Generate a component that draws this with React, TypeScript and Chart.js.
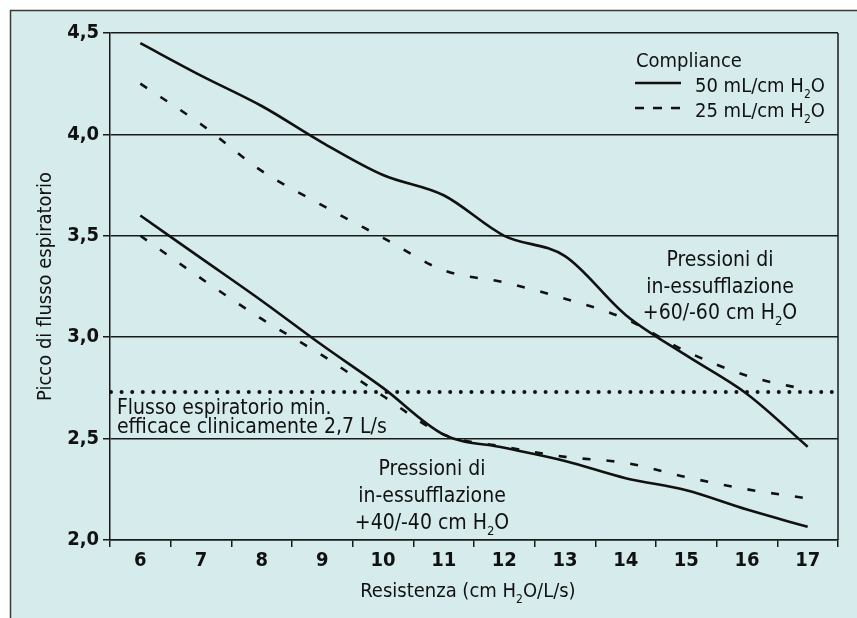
import React, { useEffect, useRef } from "react";
import { Chart, registerables } from "chart.js";

Chart.register(...registerables);

// ---- data ----
const categories = ["6", "7", "8", "9", "10", "11", "12", "13", "14", "15", "16", "17"];
const c50p60 = [4.45, 4.29, 4.14, 3.96, 3.8, 3.7, 3.5, 3.4, 3.11, 2.91, 2.72, 2.46];
const c25p60 = [4.25, 4.05, 3.82, 3.65, 3.49, 3.33, 3.27, 3.19, 3.09, 2.93, 2.81, 2.74];
const c50p40 = [3.6, 3.39, 3.18, 2.96, 2.75, 2.52, 2.455, 2.39, 2.305, 2.245, 2.15, 2.065];
const c25p40 = [3.5, 3.29, 3.09, 2.91, 2.71, 2.52, 2.46, 2.41, 2.38, 2.31, 2.25, 2.205];
const yMin = 2.0;
const yMax = 4.5;
const yStep = 0.5;
const thresholdValue = 2.73;

const yTitle = "Picco di flusso espiratorio";
const xTitle = "Resistenza (cm H_2O/L/s)";
const legendTitle = "Compliance";
const legendSolid = "50 mL/cm H_2O";
const legendDashed = "25 mL/cm H_2O";
const upperNote = ["Pressioni di", "in-essufflazione", "+60/-60 cm H_2O"];
const lowerNote = ["Pressioni di", "in-essufflazione", "+40/-40 cm H_2O"];
const thresholdNote = ["Flusso espiratorio min.", "efficace clinicamente 2,7 L/s"];

const FONT = "'DejaVu Sans Condensed', 'Liberation Sans', Arial, sans-serif";
const INK = "#111111";
const BG = "#d6ebec";

function drawRich(ctx: CanvasRenderingContext2D, text: string, x: number, y: number, align: "left" | "center", size: number) {
  const parts = text.split("_");
  const segs: { t: string; sub: boolean }[] = [];
  parts.forEach((p, i) => {
    if (i === 0) segs.push({ t: p, sub: false });
    else {
      segs.push({ t: p.slice(0, 1), sub: true });
      segs.push({ t: p.slice(1), sub: false });
    }
  });
  const main = `${size}px ${FONT}`;
  const small = `${Math.round(size * 0.62)}px ${FONT}`;
  let total = 0;
  const widths = segs.map((s) => {
    ctx.font = s.sub ? small : main;
    const w = ctx.measureText(s.t).width;
    total += w;
    return w;
  });
  let cx = align === "center" ? x - total / 2 : x;
  ctx.textBaseline = "alphabetic";
  ctx.textAlign = "left";
  segs.forEach((s, i) => {
    ctx.font = s.sub ? small : main;
    ctx.fillText(s.t, cx, s.sub ? y + size * 0.28 : y);
    cx += widths[i];
  });
}

const decor = {
  id: "decor",
  beforeDraw(chart: any) {
    const { ctx, width, height } = chart;
    ctx.save();
    ctx.fillStyle = "#ffffff";
    ctx.fillRect(0, 0, width, height);
    ctx.fillStyle = BG;
    ctx.fillRect(10, 10, width - 10, height - 10);
    ctx.strokeStyle = "#3a3a3a";
    ctx.lineWidth = 1.5;
    ctx.beginPath();
    ctx.moveTo(10.5, height);
    ctx.lineTo(10.5, 10.5);
    ctx.lineTo(width, 10.5);
    ctx.stroke();
    ctx.restore();
  },
  afterDraw(chart: any) {
    const { ctx, chartArea } = chart;
    const xs = chart.scales.x;
    const ys = chart.scales.y;
    const px = (i: number) => xs.getPixelForValue(i);
    const py = (v: number) => ys.getPixelForValue(v);
    ctx.save();
    // right frame line
    ctx.strokeStyle = "#1a1a1a";
    ctx.lineWidth = 1.5;
    ctx.beginPath();
    ctx.moveTo(chartArea.right, chartArea.top);
    ctx.lineTo(chartArea.right, chartArea.bottom);
    ctx.stroke();

    // dotted threshold
    ctx.strokeStyle = INK;
    ctx.lineWidth = 4;
    ctx.lineCap = "round";
    ctx.setLineDash([0, 10.6]);
    const ty = py(thresholdValue);
    ctx.beginPath();
    ctx.moveTo(chartArea.left + 1, ty);
    ctx.lineTo(chartArea.right, ty);
    ctx.stroke();
    ctx.setLineDash([]);
    ctx.lineCap = "butt";

    ctx.fillStyle = INK;
    // threshold note
    drawRich(ctx, thresholdNote[0], px(-0.385), py(2.621), "left", 21);
    drawRich(ctx, thresholdNote[1], px(-0.385), py(2.528), "left", 21);
    // upper note
    [3.351, 3.218, 3.09].forEach((v, i) => drawRich(ctx, upperNote[i], px(9.555), py(v), "center", 21));
    // lower note
    [2.321, 2.187, 2.054].forEach((v, i) => drawRich(ctx, lowerNote[i], px(4.808), py(v), "center", 21));

    // legend
    drawRich(ctx, legendTitle, px(8.17), py(4.332), "left", 20);
    drawRich(ctx, legendSolid, px(9.143), py(4.209), "left", 20);
    drawRich(ctx, legendDashed, px(9.143), py(4.086), "left", 20);
    ctx.strokeStyle = INK;
    ctx.lineWidth = 2.5;
    ctx.beginPath();
    ctx.moveTo(px(8.154), py(4.253));
    ctx.lineTo(px(8.912), py(4.253));
    ctx.stroke();
    ctx.setLineDash([9, 9]);
    ctx.beginPath();
    ctx.moveTo(px(8.154), py(4.13));
    ctx.lineTo(px(8.912), py(4.13));
    ctx.stroke();
    ctx.setLineDash([]);

    // x title
    ctx.fillStyle = INK;
    drawRich(ctx, xTitle, px(5.4), py(1.719), "center", 20);
    ctx.restore();
  },
};

export default function App() {
  const ref = useRef<HTMLCanvasElement | null>(null);
  useEffect(() => {
    if (!ref.current) return;
    const lineBase = {
      borderColor: INK,
      backgroundColor: INK,
      borderWidth: 2.6,
      pointRadius: 0,
      fill: false,
      cubicInterpolationMode: "monotone" as const,
    };
    const chart = new Chart(ref.current, {
      type: "line",
      data: {
        labels: categories,
        datasets: [
          { ...lineBase, label: "50 mL/cm H2O, +60/-60", data: c50p60 },
          { ...lineBase, label: "25 mL/cm H2O, +60/-60", data: c25p60, borderDash: [8, 16] },
          { ...lineBase, label: "50 mL/cm H2O, +40/-40", data: c50p40 },
          { ...lineBase, label: "25 mL/cm H2O, +40/-40", data: c25p40, borderDash: [8, 16] },
        ],
      },
      options: {
        animation: false,
        responsive: false,
        devicePixelRatio: 1,
        layout: { padding: { left: 10, top: 33, right: 19, bottom: 0 } },
        plugins: { legend: { display: false }, tooltip: { enabled: false } },
        scales: {
          x: {
            type: "category",
            offset: true,
            grid: { offset: true, drawOnChartArea: false, tickLength: 7, color: "#1a1a1a", lineWidth: 1.5 },
            border: { display: true, color: "#1a1a1a", width: 1.5 },
            ticks: { color: INK, font: { family: FONT, size: 20, weight: "bold" }, padding: 2, maxRotation: 0, autoSkip: false },
            afterFit: (s: any) => {
              s.height = 78;
            },
          },
          y: {
            min: yMin,
            max: yMax,
            grid: { tickLength: 7, color: "#1a1a1a", lineWidth: 1.5 },
            border: { display: true, color: "#1a1a1a", width: 1.5 },
            ticks: {
              stepSize: yStep,
              padding: 4,
              color: INK,
              font: { family: FONT, size: 20, weight: "bold" },
              callback: (v: any) => Number(v).toFixed(1).replace(".", ","),
            },
            title: {
              display: true,
              text: yTitle,
              color: INK,
              font: { family: FONT, size: 20 },
              padding: { top: 24, bottom: 0 },
            },
            afterFit: (s: any) => {
              s.width = 100;
            },
          },
        },
      },
      plugins: [decor],
    });
    return () => chart.destroy();
  }, []);
  return (
    <div style={{ position: "absolute", left: 0, top: 0, width: 857, height: 618 }}>
      <canvas ref={ref} width={857} height={618} style={{ display: "block" }} />
    </div>
  );
}
